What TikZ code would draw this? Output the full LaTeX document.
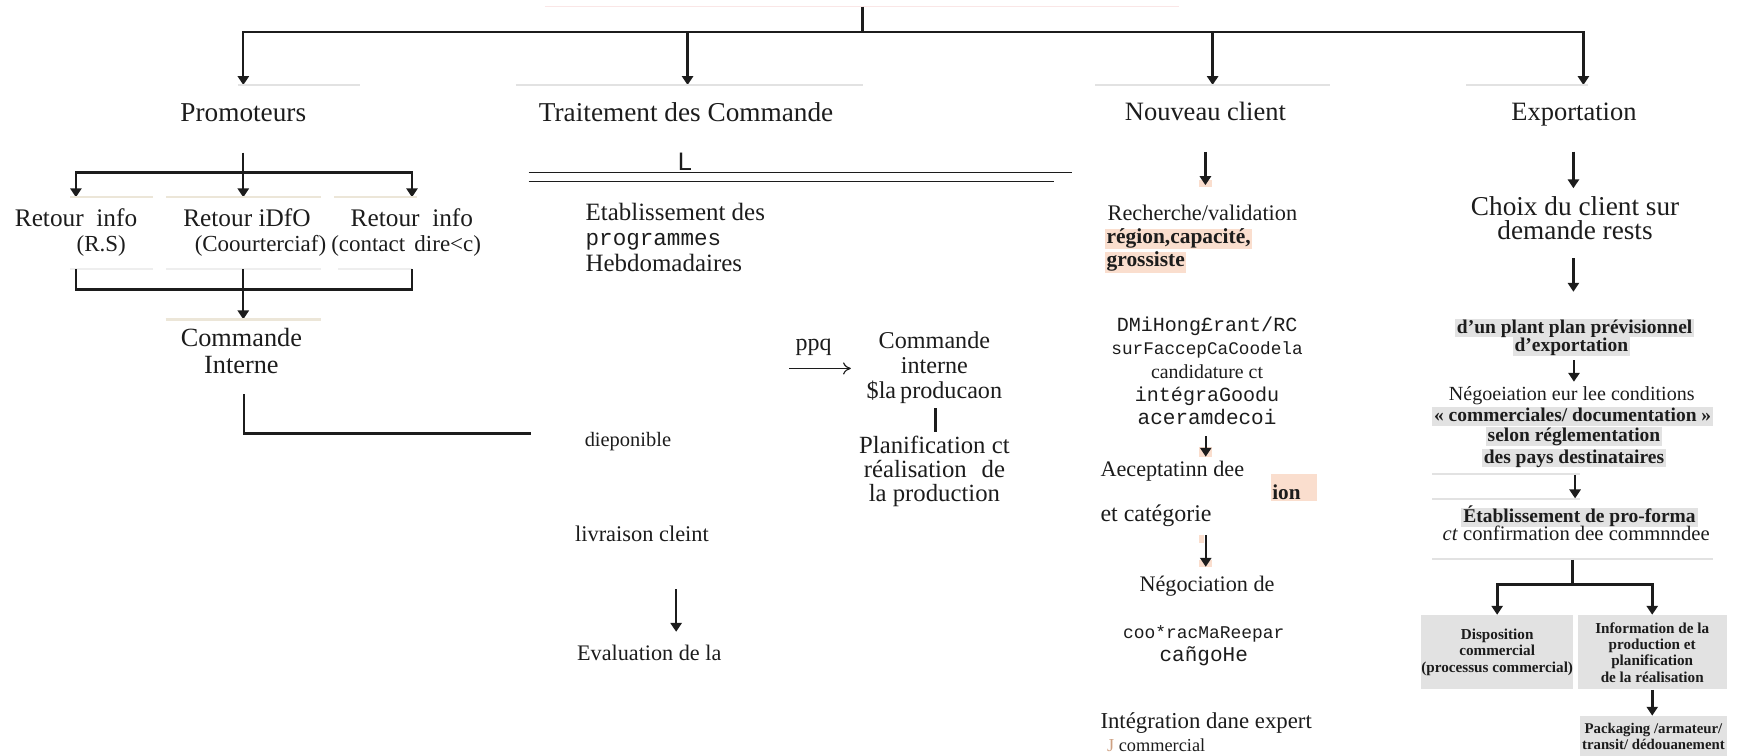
\documentclass[tikz,border=0pt]{standalone}
\usepackage{fontspec}
\setmainfont{Liberation Serif}
\setsansfont{Liberation Sans}
\setmonofont{Liberation Mono}
\usepackage{tikz}
\usetikzlibrary{arrows.meta}

\definecolor{ink}{RGB}{28,28,28}
\definecolor{faintgrey}{RGB}{226,226,226}
\definecolor{tanline}{RGB}{236,230,216}
\definecolor{paleline}{RGB}{250,230,230}
\definecolor{peach}{RGB}{250,222,206}
\definecolor{greyhl}{RGB}{226,226,226}
\definecolor{jtan}{RGB}{205,160,130}

\newcommand{\setfs}[2]{\fontsize{#1}{#2}\selectfont}
\lineskiplimit=-100pt

\begin{document}
\begin{tikzpicture}[x=0.02cm,y=-0.02cm]
\tikzset{
  every node/.style={inner sep=0pt,text=ink},
  link/.style={draw=ink,line width=1.2pt},
  arr/.style={link,-{Triangle[length=1.6mm,width=2mm]}},
  thinarr/.style={draw=ink,line width=0.6pt,-{To[length=1.4mm,width=2.2mm]}},
  bar/.style={draw=ink,line width=1.6pt},
  hair/.style={draw=ink,line width=0.6pt},
  greyrule/.style={draw=faintgrey,line width=1pt},
  tanrule/.style={draw=tanline,line width=1.2pt},
  head/.style={anchor=base,font={\setfs{14}{16}}},
  retour/.style={anchor=base,font={\setfs{13}{15}}},
  retsub/.style={anchor=base,font={\setfs{11.8}{14}}},
  hlpeach/.style={anchor=base west,fill=peach,font={\bfseries\setfs{11}{13}},
    text height=7.6pt,text depth=3pt,inner xsep=0.6pt},
  hlgrey/.style={anchor=base,fill=greyhl,font={\bfseries\setfs{10}{12}},
    text height=7.3pt,text depth=2pt,inner xsep=1pt},
  gbox/.style={fill=greyhl,align=center,font={\bfseries\setfs{7.8}{8.4}}},
}
\useasboundingbox (0,0) rectangle (1568,682);

% top branching
\draw[draw=paleline,line width=0.8pt] (491.4,6) -- (1063.4,6);
\coordinate (root) at (778.2,6);
\coordinate (hub) at (778.2,28.6);
\coordinate (promoT) at (219.5,76.7);
\coordinate (traitT) at (620.3,76.7);
\coordinate (nouvT) at (1094,76.7);
\coordinate (expoT) at (1428.5,76.7);
\draw[link] (root) -- (hub);
\foreach \t in {promoT,traitT,nouvT,expoT}
  \draw[arr] (hub) -| (\t);

\draw[greyrule] (214.3,76.7) -- (324.9,76.7);
\draw[greyrule] (465.2,76.7) -- (778.2,76.7);
\draw[greyrule] (988,76.7) -- (1200,76.7);
\draw[greyrule] (1323,76.7) -- (1433,76.7);

\node[head] (promo) at (219.5,109.8) {Promoteurs};
\node[head] (trait) at (619,109.8) {Traitement des Commande};
\node[head,font={\setfs{13.6}{16}}] (nouv) at (1087.5,108.3) {Nouveau client};
\node[head,font={\setfs{13.6}{16}}] (expo) at (1420,108.3) {Exportation};

% promoteurs
\coordinate (promoS) at (219.5,137.8);
\coordinate (promoJ) at (219.5,155.5);
\coordinate (ret_1T) at (68.5,178);
\coordinate (ret_2T) at (219.5,178);
\coordinate (ret_3T) at (371.7,178);
\draw[link] (promoS) -- (promoJ);
\draw[arr] (promoJ) -| (ret_1T);
\draw[arr] (promoJ) -- (ret_2T);
\draw[arr] (promoJ) -| (ret_3T);
\draw[tanrule] (63.3,178) -- (138.3,178);
\draw[tanrule] (149.7,178) -- (289.8,178);
\draw[tanrule] (301.5,178) -- (376.2,178);

\node[retour] (ret_1) at (68.6,204.5) {Retour\hspace{0.5em}info};
\node[retsub] (ret_1s) at (91.3,227) {(R.S)};
\node[retour] (ret_2) at (222.8,204.5) {Retour iDfO};
\node[retsub] (ret_2s) at (235,227) {(Coourterciaf)};
\node[retour] (ret_3) at (371.6,204.5) {Retour\hspace{0.5em}info};
\node[retsub] (ret_3s) at (366.4,227) {(contact\hspace{0.4em}dire<c)};

\draw[greyrule,draw=faintgrey!60] (63.3,243) -- (138.3,243);
\draw[greyrule,draw=faintgrey!60] (149.7,243) -- (289.8,243);
\draw[greyrule,draw=faintgrey!60] (305,243) -- (372,243);
\coordinate (b_1) at (68.5,243);
\coordinate (b_2) at (219.5,243);
\coordinate (b_3) at (371.7,243);
\coordinate (bJ) at (219.5,261.1);
\coordinate (cmdT) at (219.5,288.1);
\draw[link] (b_1) |- (bJ) -| (b_3);
\draw[arr] (b_2) -- (cmdT);
\draw[tanrule] (149.4,288.1) -- (289.7,288.1);

% multi-line nodes sit on the baseline of their last line
\node[anchor=base,align=center,font={\setfs{13.5}{14}}] (cmdInt) at (217.8,337.4) {Commande\\Interne};
\coordinate (cmdS) at (219.9,355.5);
\coordinate (cmdE) at (478.9,391);
\draw[link] (cmdS) |- (cmdE);

% traitement des commandes
\node[anchor=base,font={\sffamily\setfs{13}{15}}] (lmark) at (618,153.4) {L};
\draw[hair] (477,155.5) -- (967,155.5);
\draw[hair] (477,163.4) -- (951,163.4);

\node[anchor=base west,align=left,font={\setfs{12.8}{13}}] (etab) at (528,244.6)
  {Etablissement des\\{\ttfamily\setfs{11.6}{13}programmes}\\Hebdomadaires};

\node[anchor=base,font={\setfs{12.3}{14}}] (ppq) at (734,316) {ppq};
\coordinate (pq_a) at (712,332.4);
\coordinate (pq_b) at (767.6,332.4);
\draw[thinarr] (pq_a) -- (pq_b);
\node[anchor=base,align=center,font={\setfs{12.4}{12.9}}] (cip) at (843,359.5)
  {Commande\\interne\\\$la\,producaon};
\coordinate (barT) at (843.6,368.5);
\coordinate (barB) at (843.6,389.5);
\draw[bar] (barT) -- (barB);
\node[anchor=base,align=center,font={\setfs{12.7}{12.4}}] (plan) at (843,452.6)
  {Planification ct\\réalisation\hspace{0.6em}de\\la production};

\node[anchor=base west,font={\setfs{10.5}{12}}] (dispo) at (527.2,403) {dieponible};
\node[anchor=base west,font={\setfs{11.5}{13}}] (livr) at (518.5,488.7) {livraison cleint};
\coordinate (evS) at (610,531.7);
\coordinate (evT) at (610,570);
\draw[arr] (evS) -- (evT);
\node[anchor=base west,font={\setfs{11.4}{13}}] (eval) at (520.3,595.5) {Evaluation de la};

% nouveau client
\fill[peach] (1082,162.4) rectangle (1093,168.4);
\coordinate (rechS) at (1087.5,137);
\coordinate (rechT) at (1087.5,167);
\draw[arr] (rechS) -- (rechT);
\node[anchor=base west,font={\setfs{11.45}{13}}] (rech) at (999,198.6) {Recherche/validation};
\node[hlpeach] (reg) at (997,219.6) {région,capacité,};
\node[hlpeach] (gros) at (997,240.7) {grossiste};

\node[anchor=base,align=center] (dmi) at (1089,383.4)
  {{\ttfamily\setfs{10.3}{11.55}DMiHong£rant/RC}\\
   {\ttfamily\setfs{9.1}{11.55}surFaccepCaCoodela}\\
   {\setfs{10.2}{11.55}candidature ct}\\
   {\ttfamily\setfs{10.3}{11.55}intégraGoodu}\\
   {\ttfamily\setfs{10.8}{11.55}aceramdecoi}};
\fill[peach] (1082,403) rectangle (1093,412.6);
\coordinate (accS) at (1087.8,393.4);
\coordinate (accT) at (1087.8,412);
\draw[arr] (accS) -- (accT);
\node[anchor=base west,font={\setfs{11.4}{13}}] (acc) at (992.5,429.5) {Aeceptatinn dee};
\fill[peach] (1146.7,427.7) rectangle (1188,452);
\node[anchor=base west,font={\bfseries\setfs{10.9}{12}}] (ion) at (1147.5,451) {ion};
\node[anchor=base west,font={\setfs{12.3}{13}}] (cat) at (992.5,470.7) {et catégorie};
\fill[peach] (1082,482.7) rectangle (1086,490);
\fill[peach] (1082,505) rectangle (1093,511.3);
\coordinate (negoS) at (1087.8,482.7);
\coordinate (negoT) at (1087.8,511.3);
\draw[arr] (negoS) -- (negoT);
\node[anchor=base,font={\setfs{11.4}{13}}] (nego) at (1089,533.8) {Négociation de};
\node[anchor=base,align=center] (coo) at (1086,597)
  {{\ttfamily\setfs{9.2}{11.2}coo*racMaReepar}\\
   {\ttfamily\setfs{10.8}{11.2}cañgoHe}};
\node[anchor=base west,font={\setfs{11.7}{13}}] (integ) at (992.5,657) {Intégration dane expert};
\node[anchor=base west,font={\setfs{9.4}{11}},text=jtan] (jmark) at (998.5,678) {J};
\node[anchor=base west,font={\setfs{9.4}{11}}] (comm) at (1009,678) {commercial};

% exportation
\coordinate (choixS) at (1419.5,136.9);
\coordinate (choixT) at (1419.5,169.9);
\draw[arr] (choixS) -- (choixT);
\node[anchor=base,align=center,font={\setfs{14}{12.8}}] (choix) at (1421,216.5)
  {Choix du client sur\\demande rests};
\coordinate (prevS) at (1419.5,233);
\coordinate (prevT) at (1419.5,263.2);
\draw[arr] (prevS) -- (prevT);
\node[hlgrey] (prev_1) at (1420.6,300.7) {d’un plant plan prévisionnel};
\node[hlgrey] (prev_2) at (1417.7,317.3) {d’exportation};
\coordinate (negS) at (1420,324.8);
\coordinate (negT) at (1420,344.4);
\draw[arr] (negS) -- (negT);
\node[anchor=base,font={\setfs{10.3}{12}}] (neg_0) at (1418,360.9) {Négoeiation eur lee conditions};
\node[hlgrey] (neg_1) at (1418.8,380.4) {« commerciales/ documentation »};
\node[hlgrey] (neg_2) at (1420,398.5) {selon réglementation};
\node[hlgrey] (neg_3) at (1420,418) {des pays destinataires};
\draw[greyrule] (1291.7,427.7) -- (1425.5,427.7);
\draw[greyrule] (1291.7,450.5) -- (1425.5,450.5);
\coordinate (pfS) at (1421,428.5);
\coordinate (pfT) at (1421,449.6);
\draw[arr] (pfS) -- (pfT);
\node[hlgrey] (pf_1) at (1425,471.5) {Établissement de pro-forma};
\node[anchor=base,font={\setfs{10.6}{12}}] (pf_2) at (1422,487.2) {\textit{ct} confirmation dee commnndee};
\draw[greyrule] (1291.7,504.6) -- (1545.7,504.6);

\node[gbox,minimum width=2.724cm,minimum height=1.342cm] (box_1) at (1350.7,588.5)
  {Disposition\\commercial\\(processus commercial)};
\node[gbox,minimum width=2.688cm,minimum height=1.342cm] (box_2) at (1490.6,588.5)
  {Information de la\\production et\\planification\\de la réalisation};
\node[gbox,font={\bfseries\setfs{7.6}{8.2}},minimum width=2.646cm,minimum height=0.72cm] (box_3) at (1491.7,664)
  {Packaging /armateur/\\transit/ dédouanement};

\coordinate (splitS) at (1418.6,505);
\coordinate (split) at (1418.6,527.2);
\draw[link,line width=1.5pt] (splitS) -- (split);
\draw[arr,line width=1.5pt] (split) -| (box_1.north);
\draw[arr,line width=1.5pt] (split) -| (box_2.north);
\draw[arr,line width=1.5pt] (box_2.south) -- (box_2.south |- box_3.north);
\end{tikzpicture}
\end{document}
